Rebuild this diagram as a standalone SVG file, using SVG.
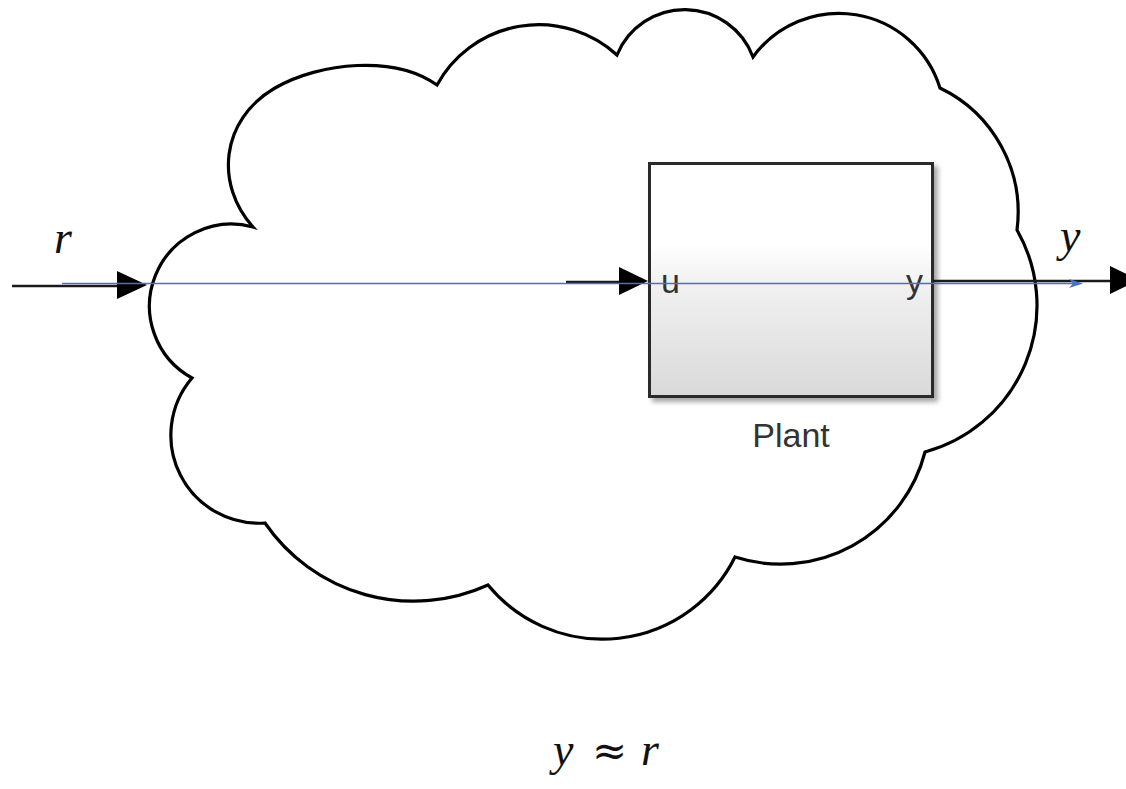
<svg xmlns="http://www.w3.org/2000/svg" width="1126" height="789" viewBox="0 0 1126 789">
  <style>
    .cloud { fill: #ffffff; stroke: #000000; stroke-width: 3.2; stroke-linejoin: miter; }
    .block { stroke: #2b2b2b; stroke-width: 3; }
    .sig { stroke: #1a1a1a; stroke-width: 2.5; fill: none; }
    .head { fill: #000000; }
    .port { font-family: "Liberation Sans", Arial, sans-serif; font-size: 34px; fill: #333333; }
    .name { font-family: "Liberation Sans", Arial, sans-serif; font-size: 34px; fill: #333333; }
    .math { font-family: "Liberation Serif", "Times New Roman", serif; font-style: italic; font-size: 46px; fill: #111111; }
    .rel { font-family: "DejaVu Serif", "Liberation Serif", serif; font-size: 42px; fill: #111111; }
    .trace { stroke: #4472c4; stroke-width: 1.6; fill: none; }
  </style>
  <defs>
    <linearGradient id="blockFill" x1="0" y1="0" x2="0" y2="1">
      <stop offset="0" stop-color="#ffffff"/>
      <stop offset="0.35" stop-color="#ffffff"/>
      <stop offset="0.5" stop-color="#f2f2f2"/>
      <stop offset="1" stop-color="#d9d9d9"/>
    </linearGradient>
    <filter id="shadow" x="-10%" y="-10%" width="125%" height="125%">
      <feDropShadow dx="4" dy="4" stdDeviation="2.5" flood-color="#000000" flood-opacity="0.35"/>
    </filter>
  </defs>

  <rect width="1126" height="789" fill="#ffffff"/>

  <!-- unknown surroundings drawn as a cloud -->
  <g id="cloud">
    <path class="cloud" d="M 253,227
      C 215,185 220,120 275,88
      C 320,62 395,55 437,85
      A 116 116 0 0 1 617,55
      A 73 73 0 0 1 753,57
      A 106 106 0 0 1 940,88
      A 138 138 0 0 1 1017,230
      A 152 152 0 0 1 925,452
      A 149 149 0 0 1 735,557
      A 148 148 0 0 1 488,585
      A 180 180 0 0 1 265,523
      A 88 88 0 0 1 192,378
      A 82 82 0 0 1 253,227 Z"/>
  </g>

  <!-- Plant block -->
  <g id="plant">
    <rect class="block" x="649.5" y="163.5" width="283" height="233" fill="url(#blockFill)" filter="url(#shadow)"/>
    <text class="port" x="661" y="293">u</text>
    <text class="port" x="923" y="293" text-anchor="end">y</text>
    <text class="name" x="791" y="447" text-anchor="middle">Plant</text>
  </g>

  <!-- signal lines -->
  <g id="connectors">
    <line class="sig" x1="12" y1="286" x2="120" y2="286"/>
    <polygon class="head" points="117,271 147,285 117,299"/>
    <line class="sig" x1="566" y1="282" x2="622" y2="282"/>
    <polygon class="head" points="619,267 648,281 619,295"/>
    <line class="sig" x1="933" y1="281" x2="1112" y2="281"/>
    <polygon class="head" points="1110,266 1139,280 1110,294"/>
  </g>

  <!-- signal names -->
  <g id="labels">
    <text class="math" x="54" y="253">r</text>
    <text class="math" x="1060" y="251">y</text>
    <text class="math" x="553" y="765">y</text>
    <text class="rel" x="592" y="765">≈</text>
    <text class="math" x="641" y="765">r</text>
  </g>

  <!-- direct path from reference to output -->
  <g id="trace">
    <line class="trace" x1="62" y1="283.5" x2="1076" y2="283.5"/>
    <path d="M 1069,279 L 1083,283.5 L 1069,288 L 1073,283.5 Z" fill="#4472c4"/>
  </g>
</svg>
